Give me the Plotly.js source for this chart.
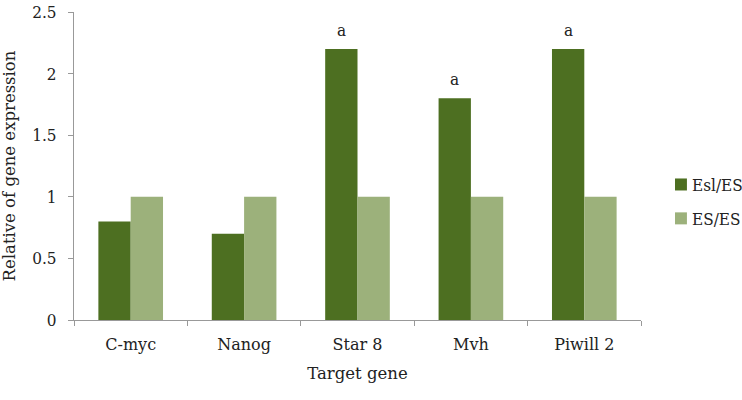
<!DOCTYPE html>
<html><head><meta charset="utf-8">
<script src="https://cdn.plot.ly/plotly-3.0.1.min.js"></script>
<style>body{margin:0;background:#fff}#c{width:742px;height:400px}</style>
</head><body><div id="c"></div>
<script>
var categories = ["C-myc", "Nanog", "Star 8", "Mvh", "Piwill 2"];
var eslValues = [0.8, 0.7, 2.2, 1.8, 2.2];
var esValues = [1, 1, 1, 1, 1];
var seriesNames = ["Esl/ES", "ES/ES"];
var seriesColors = ["#4d6f21", "#9cb17b"];
var sigLabels = ["", "", "a", "a", "a"];
var yTicks = [0, 0.5, 1, 1.5, 2, 2.5];
var yTickText = ["0", "0.5", "1", "1.5", "2", "2.5"];

var fontC = "DejaVu Serif Condensed, DejaVu Serif, serif";
var fontR = "DejaVu Serif, serif";
var fs = 17;
var traces = [
  {type:"bar", name:seriesNames[0], x:categories, y:eslValues, marker:{color:seriesColors[0]}},
  {type:"bar", name:seriesNames[1], x:categories, y:esValues, marker:{color:seriesColors[1]}}
];
var annotations = [];
categories.forEach(function(c,i){
  if (sigLabels[i]) annotations.push({x:c, y:eslValues[i], xref:"x", yref:"y", text:sigLabels[i], showarrow:false, xanchor:"center", yanchor:"bottom", xshift:-16, yshift:7, font:{family:fontC, size:fs, color:"#222"}});
});
// manual legend
var legY = [0.44, 0.33];
var shapes = [];
seriesNames.forEach(function(n,i){
  shapes.push({type:"rect", xref:"paper", yref:"paper", x0:1.06, x1:1.081, y0:legY[i]-0.0195, y1:legY[i]+0.0195, fillcolor:seriesColors[i], line:{width:0}});
  annotations.push({xref:"paper", yref:"paper", x:1.087, y:legY[i]-0.003, text:n, showarrow:false, xanchor:"left", yanchor:"middle", font:{family:fontC, size:fs, color:"#222"}});
});
var layout = {
  width:742, height:400,
  margin:{l:74, r:101, t:12, b:80},
  paper_bgcolor:"#fff", plot_bgcolor:"#fff",
  font:{family:fontC, size:fs, color:"#222"},
  barmode:"group", bargap:0.43, bargroupgap:0,
  showlegend:false,
  xaxis:{type:"category", showline:true, linecolor:"#999", linewidth:1, ticks:"outside", tickson:"boundaries", ticklen:5, tickcolor:"#999", showgrid:false, zeroline:false,
    ticklabelstandoff:10, automargin:false,
    tickfont:{family:fontR, size:16, color:"#222"},
    title:{text:"Target gene", font:{family:fontR, size:16.5, color:"#222"}, standoff:14}},
  yaxis:{range:[0,2.5], tickvals:yTicks, ticktext:yTickText, showline:true, linecolor:"#999", linewidth:1, ticks:"outside", ticklen:5, tickcolor:"#999", showgrid:false, zeroline:false,
    ticklabelstandoff:8, automargin:false,
    tickfont:{family:fontC, size:fs, color:"#222"},
    title:{text:"Relative of gene expression", font:{family:fontR, size:16.5, color:"#222"}, standoff:14}},
  annotations:annotations, shapes:shapes
};
Plotly.newPlot("c", traces, layout, {displayModeBar:false, staticPlot:true});
</script></body></html>
